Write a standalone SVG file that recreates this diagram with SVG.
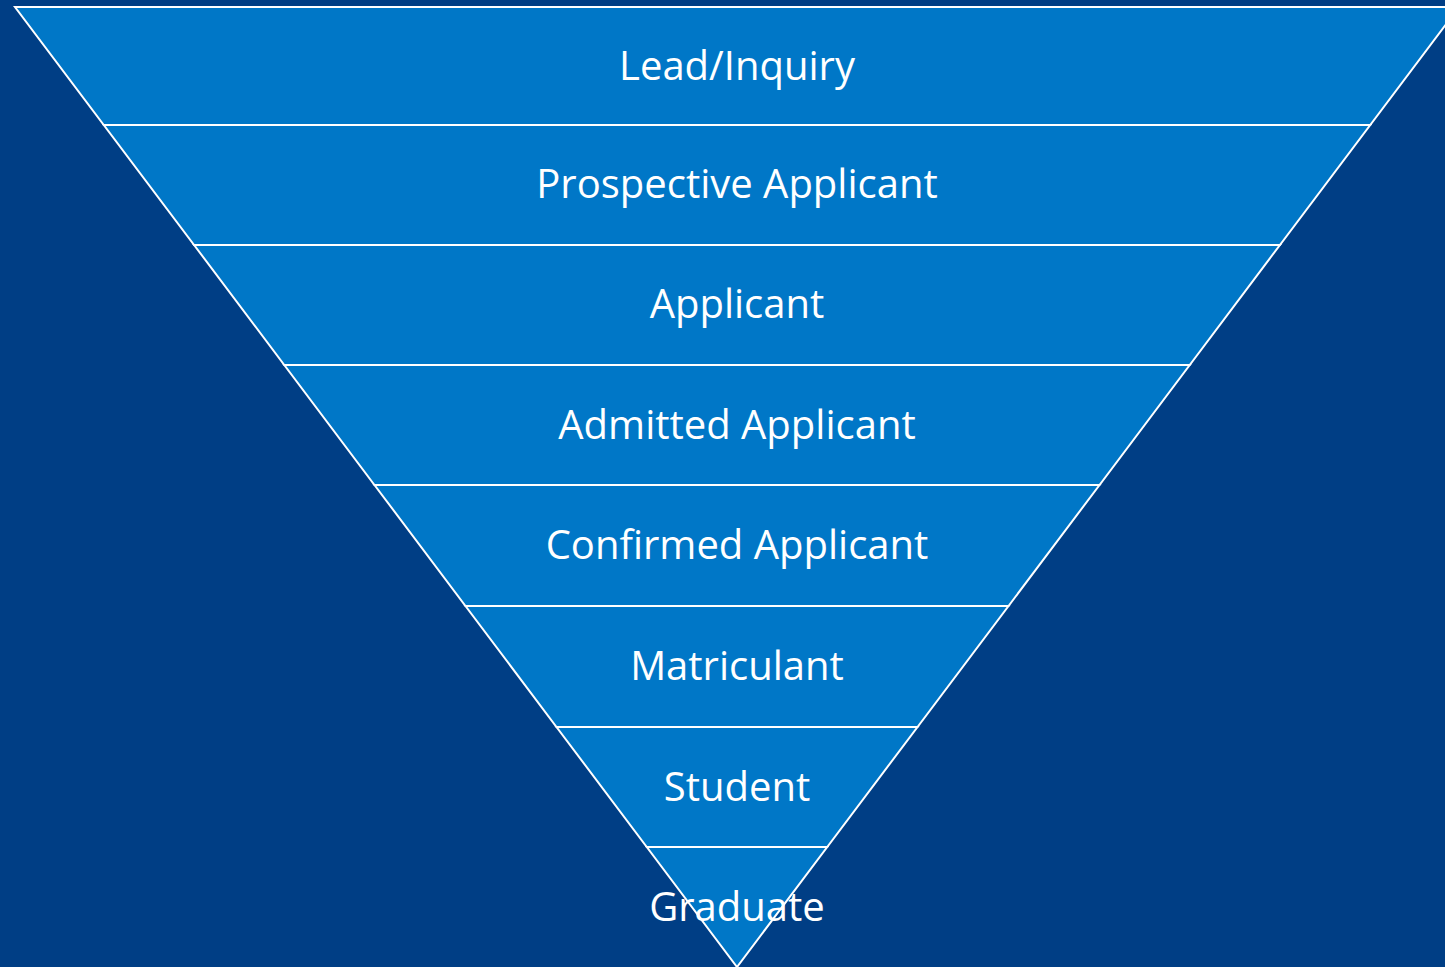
<svg xmlns="http://www.w3.org/2000/svg" width="1445" height="967" viewBox="0 0 1445 967">
<style>
.band{fill:#0077C7;stroke:#FFFFFF;stroke-width:2;stroke-linejoin:miter}
.lbl{font-family:"Open Sans",Lato,"Liberation Sans",sans-serif;font-size:40px;fill:#FFFFFF;text-anchor:middle}
</style>
<rect x="0" y="0" width="1445" height="967" fill="#003E85"/>
<g id="lead"><polygon class="band" points="15,7 1459,7 1370.2,125 103.8,125"/><text class="lbl" x="737" y="80">Lead/Inquiry</text></g>
<g id="prospective"><polygon class="band" points="103.8,125 1370.2,125 1279.9,245 194.1,245"/><text class="lbl" x="737" y="198">Prospective Applicant</text></g>
<g id="applicant"><polygon class="band" points="194.1,245 1279.9,245 1189.7,365 284.3,365"/><text class="lbl" x="737" y="318">Applicant</text></g>
<g id="admitted"><polygon class="band" points="284.3,365 1189.7,365 1099.5,485 374.5,485"/><text class="lbl" x="737" y="439">Admitted Applicant</text></g>
<g id="confirmed"><polygon class="band" points="374.5,485 1099.5,485 1008.5,606 465.5,606"/><text class="lbl" x="737" y="559">Confirmed Applicant</text></g>
<g id="matriculant"><polygon class="band" points="465.5,606 1008.5,606 917.5,727 556.5,727"/><text class="lbl" x="737" y="680">Matriculant</text></g>
<g id="student"><polygon class="band" points="556.5,727 917.5,727 827.2,847 646.8,847"/><text class="lbl" x="737" y="801">Student</text></g>
<g id="graduate"><polygon class="band" points="646.8,847 827.2,847 737,967"/><text class="lbl" x="737" y="921">Graduate</text></g>
<g id="connectors"></g>
</svg>
